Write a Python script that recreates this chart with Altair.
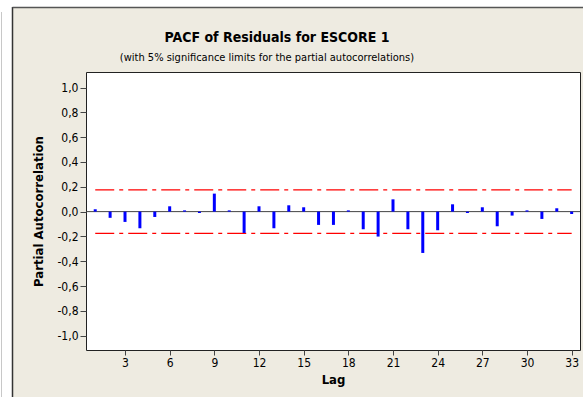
import altair as alt
import pandas as pd

# Partial autocorrelations of the residuals, lags 1..33
lags = list(range(1, 34))
pacf = [0.019, -0.050, -0.083, -0.134, -0.043, 0.043, 0.010, -0.011, 0.145, 0.010,
        -0.172, 0.043, -0.134, 0.051, 0.035, -0.107, -0.107, 0.010, -0.142, -0.201,
        0.099, -0.142, -0.333, -0.150, 0.059, -0.011, 0.035, -0.118, -0.032, 0.010,
        -0.059, 0.027, -0.019]
# 5% significance limits
limit = 0.175
y_ticks = [-1.0, -0.8, -0.6, -0.4, -0.2, 0.0, 0.2, 0.4, 0.6, 0.8, 1.0]
x_ticks = [3, 6, 9, 12, 15, 18, 21, 24, 27, 30, 33]
title_text = "PACF of Residuals for ESCORE 1"
subtitle_text = "(with 5% significance limits for the partial autocorrelations)"

W, H = 494, 278
FONT = "DejaVu Sans Condensed, DejaVu Sans"

df = pd.DataFrame({"lag": lags, "pacf": pacf})
limits = pd.DataFrame({"lag": [1, 33, 1, 33], "y": [limit, limit, -limit, -limit],
                       "side": ["u", "u", "l", "l"]})
zero = pd.DataFrame({"y": [0.0]})

x_scale = alt.Scale(domain=[0.38, 33.56], nice=False, zero=False)
y_scale = alt.Scale(domain=[-1.115, 1.125], nice=False, zero=False)

x_axis = alt.Axis(values=x_ticks, title="Lag", grid=False, domain=False,
                  tickSize=5, tickColor="#444", labelFontSize=12, labelColor="#000",
                  labelFont=FONT, labelPadding=2, labelOverlap=False,
                  titleFont=FONT, titleFontSize=13,
                  titleFontWeight="bold", titleColor="#000", titlePadding=5)
y_axis = alt.Axis(values=y_ticks, title="Partial Autocorrelation", grid=False, domain=False,
                  tickSize=6, tickColor="#444", labelFontSize=12, labelColor="#000",
                  labelFont=FONT, labelPadding=2, labelOverlap=False, labelBound=False,
                  labelExpr="replace(replace(format(datum.value, '.1f'), '.', ','), '\u2212', '-')",
                  titleFont=FONT, titleFontSize=13, titleFontWeight="bold",
                  titleColor="#000", titlePadding=11)

# Window frame: white strip on the left/top edge and a dark border line
frame_left = alt.Chart(zero).mark_rect(color="white").encode(
    x=alt.value(-86), x2=alt.value(-74), y=alt.value(-72), y2=alt.value(H + 47))
frame_top = alt.Chart(zero).mark_rect(color="white").encode(
    x=alt.value(-86), x2=alt.value(W + 3), y=alt.value(-72), y2=alt.value(-65))
edge_left = alt.Chart(zero).mark_rule(color="#333", strokeWidth=1.5).encode(
    x=alt.value(-73.5), y=alt.value(-65), y2=alt.value(H + 47))
edge_top = alt.Chart(zero).mark_rule(color="#555", strokeWidth=1.5).encode(
    x=alt.value(-73.5), x2=alt.value(W + 3), y=alt.value(-64.5))
edge_gray = alt.Chart(zero).mark_rule(color="#c8c8c8", strokeWidth=1).encode(
    x=alt.value(-84.5), y=alt.value(-60), y2=alt.value(H + 47))

# Chart heading
heading = alt.Chart(zero).mark_text(text=title_text, font=FONT, fontSize=14,
                                    fontWeight="bold", color="#000", align="center",
                                    baseline="alphabetic").encode(
    x=alt.value(191), y=alt.value(-30))
subheading = alt.Chart(zero).mark_text(text=subtitle_text, font=FONT, fontSize=11,
                                       color="#000", align="center",
                                       baseline="alphabetic").encode(
    x=alt.value(181), y=alt.value(-11))

zero_line = alt.Chart(zero).mark_rule(color="#444", strokeWidth=1).encode(
    y=alt.Y("y:Q", scale=y_scale, axis=y_axis))

limit_lines = alt.Chart(limits).mark_line(color="#ff0000", strokeWidth=1.2,
                                          strokeDash=[19, 5, 4, 5]).encode(
    x=alt.X("lag:Q", scale=x_scale, axis=x_axis),
    y=alt.Y("y:Q", scale=y_scale, axis=y_axis),
    detail="side:N")

bars = alt.Chart(df).mark_rule(color="#0000ff", strokeWidth=3).encode(
    x=alt.X("lag:Q", scale=x_scale, axis=x_axis),
    y=alt.Y("pacf:Q", scale=y_scale, axis=y_axis),
    y2=alt.datum(0))

chart = alt.layer(frame_left, frame_top, edge_gray, edge_left, edge_top,
                  heading, subheading, zero_line, limit_lines, bars).properties(
    width=W, height=H,
    autosize=alt.AutoSizeParams(type="none"),
    padding={"left": 86, "top": 72, "right": 3, "bottom": 47},
    background="#eeebe1",
).configure_view(fill="white", stroke="#222", strokeWidth=1)

chart.save("out.html", embed_options={"renderer": "svg", "actions": False})
